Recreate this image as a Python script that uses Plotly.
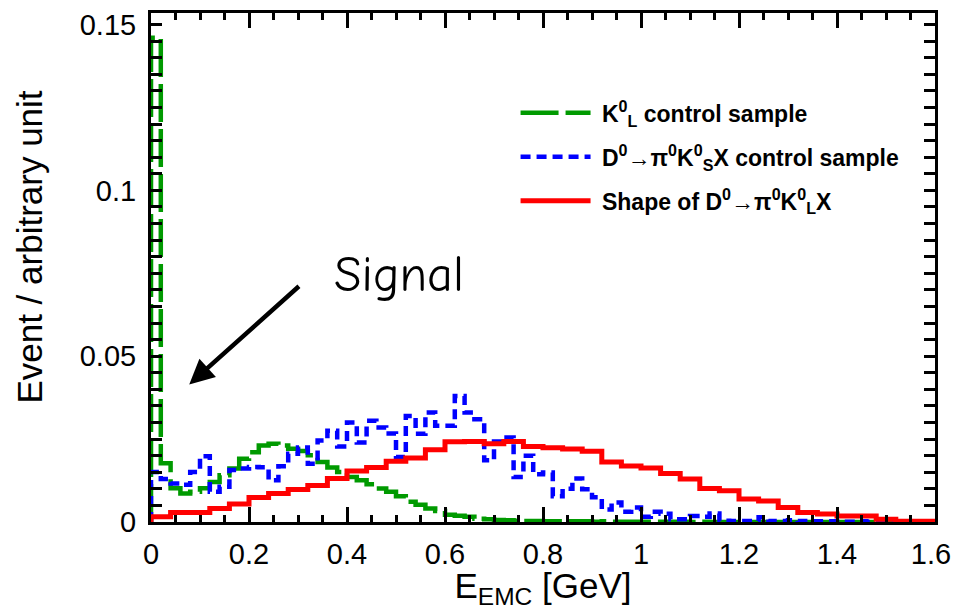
import numpy as np
import plotly.graph_objects as go

# ---------------- data ----------------
# K_L^0 control sample, 80 bins of 0.02 GeV
kl_values = [0.146, 0.0177, 0.0102, 0.0086, 0.0091, 0.0102, 0.0121, 0.0141, 0.0161, 0.0191,
             0.0210, 0.0231, 0.0236, 0.0231, 0.0221, 0.0214, 0.0201, 0.0181, 0.0164, 0.0151,
             0.0136, 0.0126, 0.0114, 0.0101, 0.0091, 0.0078, 0.0061, 0.0052, 0.0041, 0.0033,
             0.0022, 0.0019, 0.0016, 0.0010, 0.0008, 0.0006, 0.0005, 0.0004, 0.0003, 0.0003,
             0.0002, 0.0002, 0.0002, 0.0002, 0.0002, 0.0001, 0.0002, 0.0001, 0.0001, 0.0001,
             0.0001, 0.0001, 0.0001, 0.0001, 0.0001, 0.0, 0.0001, 0.0, 0.0, 0.0,
             0.0, 0.0, 0.0, 0.0, 0.0, 0.0, 0.0, 0.0, 0.0, 0.0,
             0.0, 0.0, 0.0, 0.0, 0.0, 0.0, 0.0, 0.0, 0.0, 0.0]

# D0 -> pi0 K_S^0 X control sample, 80 bins of 0.02 GeV
ks_values = [0.0151, 0.0130, 0.0116, 0.0112, 0.0151, 0.0198, 0.0091, 0.0106, 0.0157, 0.0161,
             0.0166, 0.0165, 0.0126, 0.0168, 0.0206, 0.0225, 0.0176, 0.0246, 0.0275, 0.0228,
             0.0300, 0.0240, 0.0305, 0.0285, 0.0267, 0.0196, 0.0320, 0.0266, 0.0330, 0.0290,
             0.0290, 0.0380, 0.0330, 0.0310, 0.0186, 0.0243, 0.0255, 0.0136, 0.0200, 0.0144,
             0.0149, 0.0078, 0.0100, 0.0131, 0.0099, 0.0075, 0.0038, 0.0059, 0.0031, 0.0044,
             0.0016, 0.0031, 0.0025, 0.0008, 0.0008, 0.0018, 0.0016, 0.0026, 0.0004, 0.0003,
             0.0003, 0.0003, 0.0014, 0.0003, 0.0003, 0.0005, 0.0003, 0.0002, 0.0002, 0.0002,
             0.0001, 0.0001, 0.0002, 0.0, 0.0, 0.0, 0.0, 0.0, 0.0, 0.0]

# Shape of D0 -> pi0 K_L^0 X, 40 bins of 0.04 GeV
sig_values = [0.0016, 0.0029, 0.0029, 0.0041, 0.0054, 0.0074, 0.0086, 0.0098, 0.0110, 0.0131,
              0.0154, 0.0164, 0.0183, 0.0193, 0.0218, 0.0242, 0.0243, 0.0236, 0.0243, 0.0228,
              0.0224, 0.0220, 0.0213, 0.0181, 0.0169, 0.0163, 0.0146, 0.0130, 0.0101, 0.0094,
              0.0069, 0.0063, 0.0044, 0.0029, 0.0024, 0.0018, 0.0018, 0.0008, 0.0002, 0.0002]

x_range = [0.0, 1.6]
x_tick_vals = [0, 0.2, 0.4, 0.6, 0.8, 1.0, 1.2, 1.4, 1.6]
x_tick_text = ["0", "0.2", "0.4", "0.6", "0.8", "1", "1.2", "1.4", "1.6\u00a0"]
y_tick_vals = [0, 0.05, 0.1, 0.15]
y_tick_text = ["0", "0.05", "0.1", "0.15"]
y_major_vals = [0, 0.02, 0.04, 0.06, 0.08, 0.10, 0.12, 0.14, 0.15]

names = ["<b>\u00a0K<sup>0</sup><sub>L</sub> control sample</b>",
         "<b>\u00a0D<sup>0</sup>→π<sup>0</sup>K<sup>0</sup><sub>S</sub>X control sample</b>",
         "<b>\u00a0Shape of D<sup>0</sup>→π<sup>0</sup>K<sup>0</sup><sub>L</sub>X</b>"]


def step_xy(values, lo, hi):
    v = np.asarray(values, dtype=float)
    edges = np.linspace(lo, hi, len(v) + 1)
    xs = np.concatenate([[edges[0]], edges, [edges[-1]]])
    ys = np.concatenate([[0.0], v, [v[-1], 0.0]])
    return xs, ys


FONT = "Liberation Sans, Arial, Helvetica, sans-serif"

fig = go.Figure()
for vals, name, color, dash, width in [
    (kl_values, names[0], "#009a00", "38px,7px", 4.5),
    (ks_values, names[1], "#0000ff", "10px,6px", 4.5),
    (sig_values, names[2], "#ff0000", "solid", 5),
]:
    xs, ys = step_xy(vals, x_range[0], x_range[1])
    fig.add_trace(go.Scatter(x=xs, y=ys, mode="lines", name=name,
                             line=dict(color=color, width=width, dash=dash, shape="hv"),
                             legendgroup=name, hoverinfo="skip"))

y_range = [0, 0.1535]

# the page body adds an 8px margin, so the figure is 8px smaller than the window
fig.update_layout(
    width=952, height=602,
    margin=dict(l=143, r=20, t=1, b=88),
    paper_bgcolor="white", plot_bgcolor="white",
    font=dict(family=FONT, color="black"),
    showlegend=True,
    legend=dict(x=0.465, y=0.846, xanchor="left", yanchor="top",
                bgcolor="rgba(0,0,0,0)", borderwidth=0,
                font=dict(family=FONT, size=23, color="black"),
                itemwidth=70, tracegroupgap=11),
    xaxis=dict(range=x_range, tickmode="array", tickvals=x_tick_vals, ticktext=x_tick_text,
               ticks="inside", ticklen=15, tickwidth=2.5, tickcolor="black",
               minor=dict(dtick=0.05, ticks="inside", ticklen=7, tickwidth=2.5, tickcolor="black"),
               showline=True, linewidth=3, linecolor="black", mirror="allticks",
               showgrid=False, zeroline=False, ticklabeloverflow="allow",
               tickfont=dict(family=FONT, size=29), ticklabelstandoff=4,
               title=dict(text="E<sub>EMC</sub> [GeV]", font=dict(family=FONT, size=35), standoff=6)),
    yaxis=dict(range=y_range, tickmode="array", tickvals=y_tick_vals, ticktext=y_tick_text,
               ticks="inside", ticklen=11, tickwidth=2.5, tickcolor="black",
               minor=dict(dtick=0.005, ticks="inside", ticklen=11, tickwidth=2.5, tickcolor="black"),
               showline=True, linewidth=3, linecolor="black", mirror="allticks",
               showgrid=False, zeroline=False, ticklabeloverflow="allow",
               tickfont=dict(family=FONT, size=29), ticklabelstandoff=6),
    yaxis2=dict(range=y_range, overlaying="y", anchor="x", side="left",
                tickmode="array", tickvals=y_major_vals, showticklabels=False,
                ticks="inside", ticklen=22, tickwidth=2.5, tickcolor="black",
                mirror="allticks", showline=False, showgrid=False, zeroline=False),
)

# y-axis title (placed like ROOT, toward the top end)
fig.add_annotation(text="Event / arbitrary unit", xref="paper", yref="paper",
                   x=-0.155, y=0.54, xanchor="center", yanchor="middle", textangle=-90,
                   showarrow=False, font=dict(family=FONT, size=35, color="black"))

# Signal arrow
fig.add_annotation(x=0.078, y=0.0415, ax=0.305, ay=0.0715, xref="x", yref="y", axref="x", ayref="y",
                   text="", showarrow=True, arrowhead=2, arrowsize=1.1, arrowwidth=4.5,
                   arrowcolor="black")
fig.add_annotation(x=0.37, y=0.0745, xref="x", yref="y", text="Signal", showarrow=False,
                   xanchor="left", yanchor="middle",
                   font=dict(family="Comic Sans MS, Comic Neue, Lato, sans-serif", size=50, color="black"))

fig.write_html("out.html")
